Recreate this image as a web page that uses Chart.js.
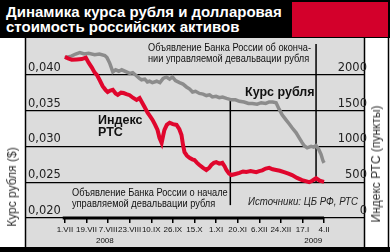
<!DOCTYPE html>
<html>
<head>
<meta charset="utf-8">
<script src="https://cdn.jsdelivr.net/npm/chart.js@4.4.0/dist/chart.umd.min.js"></script>
<style>
  html, body { margin: 0; padding: 0; background: #fff; }
  #wrap { position: relative; width: 390px; height: 252px; overflow: hidden; font-family: "Liberation Sans", Arial, sans-serif; }
  #chart { position: absolute; left: 0; top: 0; }
  .head { position: absolute; left: 0; top: 0; width: 390px; height: 38px; background: #000; }
  .red { position: absolute; left: 292px; top: 2px; width: 96px; height: 35px; background: #d3002b; }
  .title { position: absolute; left: 6px; top: 5px; color: #fff; font-weight: bold; font-size: 15px; line-height: 14.5px; white-space: nowrap; }
  .note { position: absolute; font-size: 10.5px; line-height: 10.5px; color: #111; white-space: nowrap; transform: scaleX(0.88); transform-origin: 0 0; }
  .src { position: absolute; left: 248px; top: 195px; font-style: italic; font-size: 11px; color: #222; white-space: nowrap; transform: scaleX(0.88); transform-origin: 0 0; }
  .lbl { position: absolute; font-weight: bold; font-size: 12.5px; line-height: 12px; color: #111; white-space: nowrap; }
  .vt { position: absolute; font-size: 12px; color: #333; white-space: nowrap; transform: translate(-50%, -50%) rotate(-90deg); }
</style>
</head>
<body>
<div id="wrap">
  <canvas id="chart" width="390" height="252"></canvas>
  <div class="head"><div class="red"></div></div>
  <div class="title">Динамика курса рубля и долларовая<br>стоимость российских активов</div>
  <div class="note" style="left:148px; top:42px;">Объявление Банка России об оконча-<br>нии управляемой девальвации рубля</div>
  <div class="note" style="left:72px; top:187px;">Объявление Банка России о начале<br>управляемой девальвации рубля</div>
  <div class="src">Источники: ЦБ РФ, РТС</div>
  <div class="lbl" style="left:245px; top:86px;">Курс рубля</div>
  <div class="lbl" style="left:98px; top:114px;">Индекс<br>РТС</div>
  <div class="vt" style="left:12px; top:187px;">Курс рубля ($)</div>
  <div class="vt" style="left:376px; top:164px;">Индекс РТС (пункты)</div>
</div>
<script>
// x positions are tick indexes: 0 = 1.VII ... 12 = 4.II
const xLabels = ['1.VII', '19.VII', '7.VIII', '23.VIII', '10.IX', '26.IX', '15.X', '1.XI', '20.XI', '6.XII', '24.XII', '17.I', '4.II'];
const yearLabels = ['2008', '2009'];
const yearPos = [1.85, 11.5];
const leftTicks = [0.020, 0.025, 0.030, 0.035, 0.040];
const leftTickLabels = ['0,020', '0,025', '0,030', '0,035', '0,040'];
const rightTicks = [0, 500, 1000, 1500, 2000];

// ruble rate, $ per ruble
const rubleX = [0, 0.3, 0.5, 0.69, 0.9, 1.1, 1.38, 1.6, 1.85, 1.95, 2.08, 2.22, 2.35, 2.5, 2.63, 2.85, 3.0, 3.14, 3.3, 3.45,
  3.55, 3.7, 3.82, 3.92, 4.05, 4.25, 4.4, 4.55, 4.7, 4.85, 4.98, 5.12, 5.31, 5.47, 5.63, 5.78, 5.91, 6.05, 6.23, 6.4,
  6.55, 6.7, 6.83, 7.0, 7.15, 7.3, 7.48, 7.6, 7.71, 7.9, 8.08, 8.3, 8.5, 8.68, 8.9, 9.09, 9.3, 9.46, 9.62, 9.78,
  9.92, 10.06, 10.24, 10.4, 10.52, 10.71, 10.85, 10.97, 11.08, 11.22, 11.4, 11.52, 11.63, 11.75, 11.86, 11.95, 12.0];
const rubleY = [0.0424, 0.0426, 0.0429, 0.0431, 0.0429, 0.0430, 0.0428, 0.0429, 0.0427, 0.0424, 0.0416, 0.0404, 0.0407, 0.0405, 0.0407, 0.0404, 0.0402, 0.0403, 0.0399, 0.0395,
  0.0393, 0.0394, 0.0390, 0.0391, 0.0389, 0.0391, 0.0389, 0.0395, 0.0397, 0.0394, 0.0397, 0.0392, 0.0389, 0.0387, 0.0383, 0.0380, 0.0376, 0.0377, 0.0374, 0.0373,
  0.0371, 0.0372, 0.0369, 0.0370, 0.0368, 0.0369, 0.0367, 0.0366, 0.0365, 0.0365, 0.0363, 0.0362, 0.0360, 0.0360, 0.0359, 0.0361, 0.0360, 0.0362, 0.0362, 0.0361,
  0.0352, 0.0344, 0.0337, 0.0331, 0.0326, 0.0319, 0.0312, 0.0306, 0.0301, 0.0298, 0.0300, 0.0299, 0.0301, 0.0296, 0.0289, 0.0280, 0.0277];

// RTS index, points
const rtsX = [0, 0.15, 0.32, 0.55, 0.78, 0.97, 1.1, 1.25, 1.38, 1.5, 1.62, 1.75, 1.88, 1.98, 2.1, 2.22, 2.35, 2.45, 2.6, 2.72,
  2.85, 3.0, 3.15, 3.32, 3.46, 3.58, 3.69, 3.83, 3.95, 4.06, 4.18, 4.29, 4.38, 4.48, 4.55, 4.61, 4.72, 4.85, 5.0, 5.17,
  5.3, 5.4, 5.47, 5.54, 5.65, 5.77, 5.9, 6.0, 6.12, 6.23, 6.4, 6.55, 6.68, 6.78, 6.9, 7.01, 7.15, 7.29, 7.4, 7.48,
  7.6, 7.71, 7.9, 8.08, 8.25, 8.4, 8.6, 8.86, 9.0, 9.14, 9.3, 9.46, 9.62, 9.78, 9.95, 10.15, 10.35, 10.52, 10.75, 10.98,
  11.15, 11.31, 11.45, 11.63, 11.8, 12.0];
const rtsY = [2250, 2230, 2210, 2215, 2220, 2240, 2170, 2100, 2030, 1990, 1920, 1840, 1790, 1760, 1780, 1790, 1740, 1720, 1750, 1745,
  1730, 1715, 1680, 1650, 1675, 1610, 1550, 1470, 1420, 1370, 1300, 1230, 1120, 1050, 1150, 1230, 1300, 1330, 1310, 1300,
  1240, 1160, 1020, 920, 870, 840, 820, 810, 770, 740, 700, 670, 700, 740, 770, 780, 760, 770, 720, 670,
  620, 600, 615, 630, 650, 643, 655, 640, 655, 665, 690, 700, 680, 670, 660, 640, 620, 600, 560, 530,
  515, 500, 520, 555, 520, 505];

// announcement markers: x, top and bottom in ruble-axis units
const markerX = [7.66, 11.63];
const markerTop = [0.0366, 0.0443];
const markerBottom = [0.0218, 0.0249];

const frame = {
  id: 'frame',
  beforeDraw(chart) {
    const { ctx, chartArea: a, width, height } = chart;
    ctx.save();
    ctx.fillStyle = '#fff';
    ctx.fillRect(0, 0, width, height);
    ctx.fillStyle = '#dcdcdc';
    ctx.fillRect(a.left, 38, a.right - a.left, height - 5 - 38);
    ctx.fillStyle = '#000';
    ctx.fillRect(0, height - 5, width, 5);
    ctx.strokeStyle = '#000';
    ctx.lineWidth = 1.5;
    [a.left - 0.5, a.right + 0.5, width - 1.5].forEach(x => {
      ctx.beginPath();
      ctx.moveTo(x, 38);
      ctx.lineTo(x, height - 5);
      ctx.stroke();
    });
    ctx.restore();
  },
  beforeDatasetsDraw(chart) {
    const { ctx, scales } = chart;
    ctx.save();
    ctx.strokeStyle = '#000';
    ctx.lineWidth = 1.5;
    markerX.forEach((v, i) => {
      const x = scales.x.getPixelForValue(v);
      ctx.beginPath();
      ctx.moveTo(x, scales.yL.getPixelForValue(markerTop[i]));
      ctx.lineTo(x, scales.yL.getPixelForValue(markerBottom[i]));
      ctx.stroke();
    });
    ctx.restore();
  },
  afterDraw(chart) {
    const { ctx, scales } = chart;
    const y = scales.yL.getPixelForValue(leftTicks[0]);
    ctx.save();
    ctx.strokeStyle = '#000';
    ctx.lineWidth = 3;
    ctx.beginPath();
    ctx.moveTo(scales.x.getPixelForValue(-0.1), y);
    ctx.lineTo(scales.x.getPixelForValue(xLabels.length - 1), y);
    ctx.stroke();
    ctx.restore();
  }
};

const tickFont = { family: '"DejaVu Sans", sans-serif', size: 11.5 };
const smallFont = { family: '"Liberation Sans", Arial, sans-serif', size: 8 };

new Chart(document.getElementById('chart'), {
  type: 'line',
  data: {
    datasets: [
      {
        label: 'Индекс РТС',
        data: rtsX.map((x, i) => ({ x, y: rtsY[i] })),
        yAxisID: 'yR',
        borderColor: '#e0062d',
        borderWidth: 4,
        pointRadius: 0,
        tension: 0,
        order: 0
      },
      {
        label: 'Курс рубля',
        data: rubleX.map((x, i) => ({ x, y: rubleY[i] })),
        yAxisID: 'yL',
        borderColor: '#8c8c8c',
        borderWidth: 3.5,
        pointRadius: 0,
        tension: 0,
        order: 1
      }
    ]
  },
  options: {
    responsive: false,
    animation: false,
    layout: { padding: { left: 26, right: 26, top: 40, bottom: 0 } },
    plugins: { legend: { display: false }, tooltip: { enabled: false } },
    scales: {
      x: {
        type: 'linear',
        min: -1.8,
        max: 13.85,
        afterBuildTicks: s => { s.ticks = xLabels.map((_, i) => ({ value: i })); },
        afterFit: s => { s.height = 18; },
        grid: { drawOnChartArea: false, drawTicks: true, tickLength: 5, color: '#000', lineWidth: 1.5 },
        border: { display: false },
        ticks: {
          autoSkip: false, maxRotation: 0, padding: 2, color: '#111', font: smallFont,
          callback: (v, i) => xLabels[i]
        }
      },
      xYear: {
        type: 'linear',
        position: 'bottom',
        weight: 1,
        min: -1.8,
        max: 13.85,
        afterBuildTicks: s => { s.ticks = yearPos.map(v => ({ value: v })); },
        afterFit: s => { s.height = 16; },
        grid: { display: false, drawTicks: false },
        border: { display: false },
        ticks: {
          autoSkip: false, maxRotation: 0, padding: 0, color: '#111', font: smallFont,
          callback: (v, i) => yearLabels[i]
        }
      },
      yL: {
        type: 'linear',
        position: 'left',
        min: 0.020,
        max: 0.04486,
        afterBuildTicks: s => { s.ticks = leftTicks.map(v => ({ value: v })); },
        afterFit: s => { s.width = 0; },
        grid: { color: '#000', lineWidth: 1.3, drawTicks: false },
        border: { display: false },
        ticks: {
          mirror: true, padding: 2, labelOffset: -7, color: '#222', font: tickFont,
          callback: (v, i) => leftTickLabels[i]
        }
      },
      yR: {
        type: 'linear',
        position: 'right',
        min: 0,
        max: 2486,
        afterBuildTicks: s => { s.ticks = rightTicks.map(v => ({ value: v })); },
        afterFit: s => { s.width = 0; },
        grid: { display: false },
        border: { display: false },
        ticks: {
          mirror: true, padding: 3, labelOffset: -7, color: '#222', font: tickFont,
          callback: v => String(v)
        }
      }
    }
  },
  plugins: [frame]
});
</script>
</body>
</html>
